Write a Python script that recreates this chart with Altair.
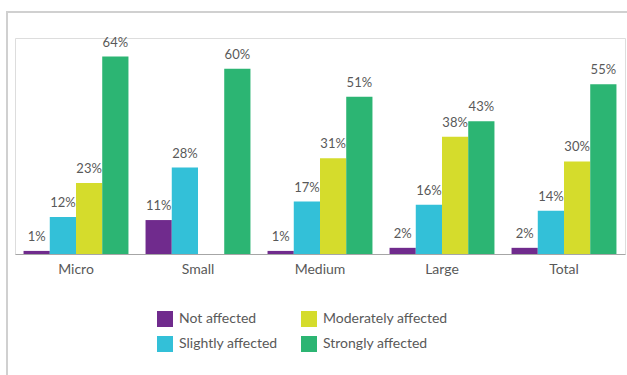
import altair as alt
import pandas as pd

categories = ["Micro", "Small", "Medium", "Large", "Total"]
series = ["Not affected", "Slightly affected", "Moderately affected", "Strongly affected"]
not_affected = [1, 11, 1, 2, 2]
slightly_affected = [12, 28, 17, 16, 14]
moderately_affected = [23, None, 31, 38, 30]
strongly_affected = [64, 60, 51, 43, 55]

colors = {
    "Not affected": "#702B8D",
    "Slightly affected": "#33C0D8",
    "Moderately affected": "#D5DC2C",
    "Strongly affected": "#2CB573",
}

rows = []
for s, vals in zip(series, [not_affected, slightly_affected, moderately_affected, strongly_affected]):
    for c, v in zip(categories, vals):
        if v is not None:
            rows.append({"category": c, "series": s, "value": v})
df = pd.DataFrame(rows)

FONT = "Lato"
TXT = "#595959"

base = alt.Chart(df).encode(
    x=alt.X(
        "category:N",
        sort=categories,
        scale=alt.Scale(paddingInner=0.14, paddingOuter=0.07),
        axis=alt.Axis(
            title=None, labelAngle=0, ticks=False, domainColor="#A6A6A6",
            domainWidth=1, labelFontSize=14, labelColor=TXT, labelFont=FONT,
            labelPadding=8, grid=False,
        ),
    ),
    xOffset=alt.XOffset("series:N", scale=alt.Scale(domain=series, paddingInner=0, paddingOuter=0)),
    y=alt.Y("value:Q", scale=alt.Scale(domain=[0, 70], nice=False), axis=None),
)

bars = base.mark_bar(strokeWidth=0).encode(
    color=alt.Color(
        "series:N",
        scale=alt.Scale(domain=series, range=[colors[s] for s in series]),
        legend=alt.Legend(
            title=None, orient="none", legendX=142, legendY=273, columns=2,
            symbolType="square", symbolSize=256, symbolStrokeWidth=0, symbolOpacity=1,
            labelFontSize=14, labelFont=FONT, labelColor=TXT, labelOffset=6,
            rowPadding=9, columnPadding=23, padding=0,
        ),
    )
)

labels = base.mark_text(dy=-7, baseline="bottom", fontSize=13, font=FONT, color=TXT).transform_calculate(
    label="datum.value + '%'"
).encode(text="label:N")

frame_top = alt.Chart(df).mark_rule(color="#D0D0D0", strokeWidth=2).encode(
    x=alt.value(-8), x2=alt.value(620), y=alt.value(-26)
)
frame_left = alt.Chart(df).mark_rule(color="#D0D0D0", strokeWidth=2).encode(
    x=alt.value(-8), y=alt.value(-27), y2=alt.value(340)
)

chart = alt.layer(frame_top, frame_left, bars, labels).properties(
    width=610, height=216,
    autosize=alt.AutoSizeParams(type="none"),
    padding={"left": 15, "top": 38, "right": 2, "bottom": 121},
).configure_view(stroke=None).configure(background="white")

chart.save("out.html", embed_options={"renderer": "svg", "actions": False})
